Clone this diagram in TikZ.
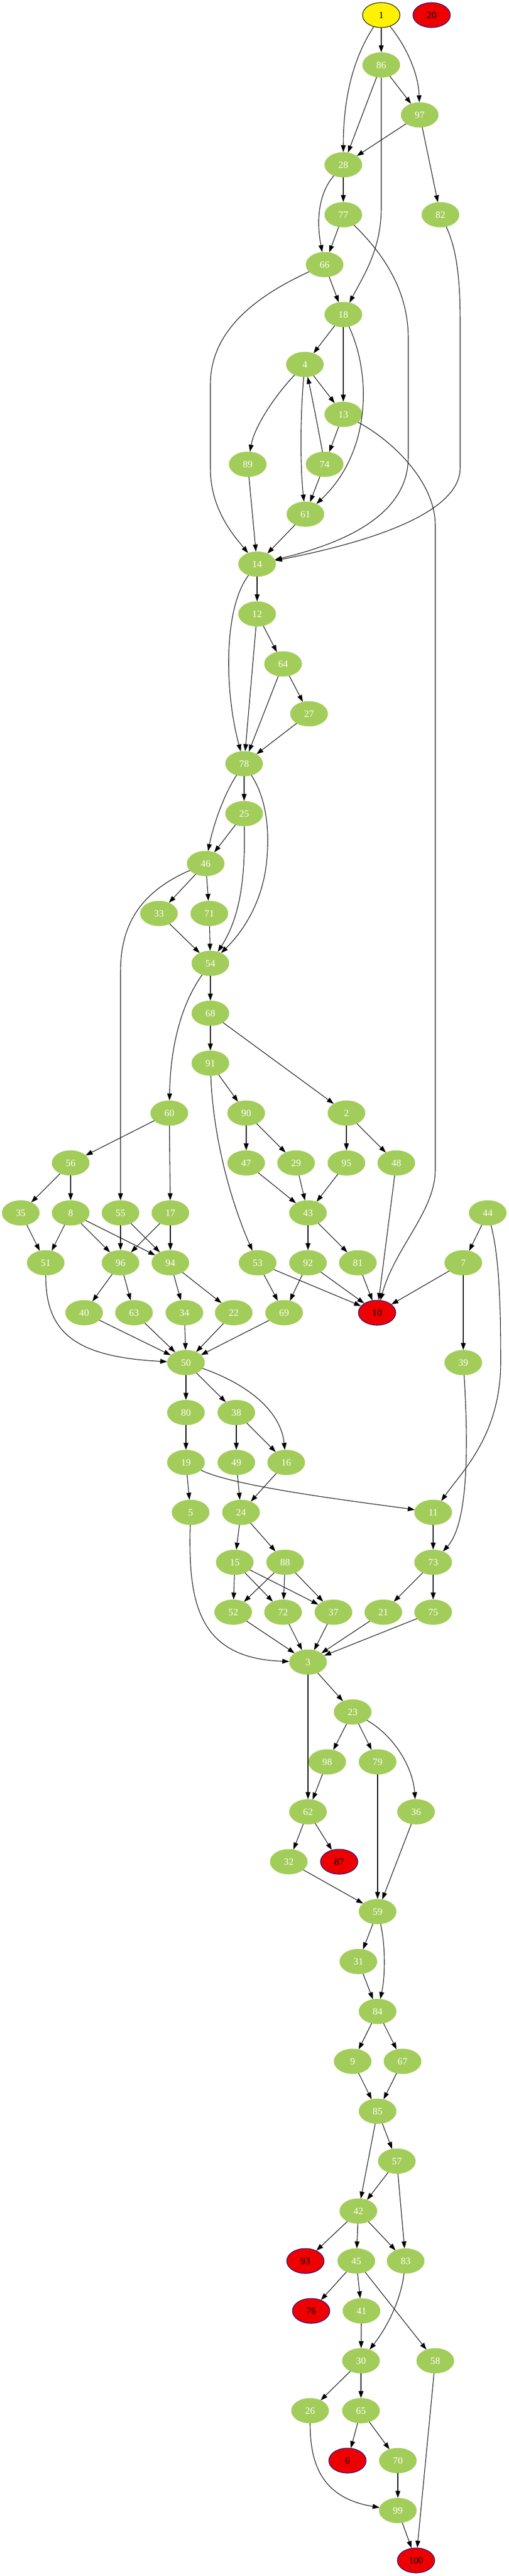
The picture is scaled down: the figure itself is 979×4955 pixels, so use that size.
\documentclass[tikz,border=0pt]{standalone}
\usepackage{fontspec}
\setmainfont{Liberation Serif}
\usetikzlibrary{shapes.geometric,arrows.meta}
\definecolor{ggreen}{HTML}{A2CD5A}
\definecolor{gred}{HTML}{EE0000}
\definecolor{gblue}{HTML}{00008B}
\tikzset{
  basenode/.style={ellipse, minimum width=54pt, minimum height=36pt, inner sep=0pt, font=\fontsize{14pt}{16pt}\selectfont},
  gnode/.style={basenode, fill=ggreen, draw=ggreen, text=white},
  rnode/.style={basenode, fill=gred, draw=gblue, line width=0.8pt, text=black},
  ynode/.style={basenode, fill=yellow, draw=black, line width=0.8pt, text=black},
  edgeline/.style={-{Triangle[length=10pt,width=7pt]}, line width=0.8pt, draw=black}
}
\begin{document}
\begin{tikzpicture}[x=0.75pt,y=-0.75pt]
\useasboundingbox (0,0) rectangle (979,4955);
% nodes
\node[ynode] (n1) at (734,29) {1};
\node[rnode] (n20) at (831,29) {20};
\node[gnode] (n86) at (734,125) {86};
\node[gnode] (n97) at (808,221) {97};
\node[gnode] (n28) at (661,317) {28};
\node[gnode] (n77) at (661,413) {77};
\node[gnode] (n82) at (848,413) {82};
\node[gnode] (n66) at (625,509) {66};
\node[gnode] (n18) at (661,605) {18};
\node[gnode] (n4) at (587,701) {4};
\node[gnode] (n13) at (661,797) {13};
\node[gnode] (n89) at (477,893) {89};
\node[gnode] (n74) at (625,893) {74};
\node[gnode] (n61) at (588,989) {61};
\node[gnode] (n14) at (495,1085) {14};
\node[gnode] (n12) at (495,1181) {12};
\node[gnode] (n64) at (545,1277) {64};
\node[gnode] (n27) at (595,1373) {27};
\node[gnode] (n78) at (470,1469) {78};
\node[gnode] (n25) at (470,1565) {25};
\node[gnode] (n46) at (396,1661) {46};
\node[gnode] (n33) at (306,1757) {33};
\node[gnode] (n71) at (403,1757) {71};
\node[gnode] (n54) at (405,1853) {54};
\node[gnode] (n68) at (405,1949) {68};
\node[gnode] (n91) at (405,2045) {91};
\node[gnode] (n60) at (326,2141) {60};
\node[gnode] (n90) at (474,2141) {90};
\node[gnode] (n2) at (667,2141) {2};
\node[gnode] (n56) at (136,2237) {56};
\node[gnode] (n47) at (474,2237) {47};
\node[gnode] (n29) at (570,2237) {29};
\node[gnode] (n95) at (667,2237) {95};
\node[gnode] (n48) at (763,2237) {48};
\node[gnode] (n35) at (40,2333) {35};
\node[gnode] (n8) at (136,2333) {8};
\node[gnode] (n55) at (232,2333) {55};
\node[gnode] (n17) at (328,2333) {17};
\node[gnode] (n43) at (593,2333) {43};
\node[gnode] (n44) at (939,2333) {44};
\node[gnode] (n51) at (88,2429) {51};
\node[gnode] (n96) at (232,2429) {96};
\node[gnode] (n94) at (328,2429) {94};
\node[gnode] (n53) at (496,2429) {53};
\node[gnode] (n92) at (593,2429) {92};
\node[gnode] (n81) at (689,2429) {81};
\node[gnode] (n7) at (892,2429) {7};
\node[gnode] (n40) at (162,2525) {40};
\node[gnode] (n63) at (258,2525) {63};
\node[gnode] (n34) at (355,2525) {34};
\node[gnode] (n22) at (450,2525) {22};
\node[gnode] (n69) at (547,2525) {69};
\node[rnode] (n10) at (726,2525) {10};
\node[gnode] (n50) at (358,2621) {50};
\node[gnode] (n39) at (892,2621) {39};
\node[gnode] (n80) at (358,2717) {80};
\node[gnode] (n38) at (455,2717) {38};
\node[gnode] (n19) at (358,2813) {19};
\node[gnode] (n49) at (455,2813) {49};
\node[gnode] (n16) at (551,2813) {16};
\node[gnode] (n5) at (367,2909) {5};
\node[gnode] (n24) at (464,2909) {24};
\node[gnode] (n11) at (834,2909) {11};
\node[gnode] (n15) at (452,3005) {15};
\node[gnode] (n88) at (549,3005) {88};
\node[gnode] (n73) at (834,3005) {73};
\node[gnode] (n52) at (449,3101) {52};
\node[gnode] (n72) at (545,3101) {72};
\node[gnode] (n37) at (642,3101) {37};
\node[gnode] (n21) at (738,3101) {21};
\node[gnode] (n75) at (834,3101) {75};
\node[gnode] (n3) at (593,3197) {3};
\node[gnode] (n23) at (679,3293) {23};
\node[gnode] (n98) at (630,3389) {98};
\node[gnode] (n79) at (727,3389) {79};
\node[gnode] (n62) at (593,3485) {62};
\node[gnode] (n36) at (801,3485) {36};
\node[gnode] (n32) at (556,3581) {32};
\node[rnode] (n87) at (653,3581) {87};
\node[gnode] (n59) at (727,3677) {59};
\node[gnode] (n31) at (690,3773) {31};
\node[gnode] (n84) at (727,3869) {84};
\node[gnode] (n9) at (679,3965) {9};
\node[gnode] (n67) at (775,3965) {67};
\node[gnode] (n85) at (727,4061) {85};
\node[gnode] (n57) at (764,4157) {57};
\node[gnode] (n42) at (690,4253) {42};
\node[rnode] (n93) at (588,4349) {93};
\node[gnode] (n45) at (686,4349) {45};
\node[gnode] (n83) at (781,4349) {83};
\node[rnode] (n76) at (599,4445) {76};
\node[gnode] (n41) at (696,4445) {41};
\node[gnode] (n30) at (695,4541) {30};
\node[gnode] (n58) at (838,4541) {58};
\node[gnode] (n26) at (597,4637) {26};
\node[gnode] (n65) at (695,4637) {65};
\node[rnode] (n6) at (669,4733) {6};
\node[gnode] (n70) at (766,4733) {70};
\node[gnode] (n99) at (766,4829) {99};
\node[rnode] (n100) at (801,4925) {100};
% straight edges
\foreach \a/\b in {1/86, 86/28, 86/97, 97/28, 97/82, 28/77, 77/66, 66/18, 18/4, 18/13, 4/13, 13/74, 74/61, 89/14, 61/14, 14/12, 12/64, 12/78, 64/78, 64/27, 27/78, 78/25, 25/46, 46/33, 46/71, 33/54, 71/54, 54/68, 68/91, 68/2, 91/90, 60/56, 60/17, 90/47, 90/29, 2/95, 2/48, 56/35, 56/8, 47/43, 29/43, 95/43, 48/10, 35/51, 8/51, 8/96, 8/94, 55/96, 55/94, 17/96, 17/94, 43/92, 43/81, 44/7, 96/40, 96/63, 94/34, 94/22, 53/69, 53/10, 92/69, 92/10, 81/10, 7/10, 7/39, 40/50, 63/50, 34/50, 22/50, 69/50, 50/80, 50/38, 80/19, 38/49, 38/16, 19/5, 49/24, 16/24, 24/15, 24/88, 11/73, 15/52, 15/72, 15/37, 88/52, 88/72, 88/37, 73/21, 73/75, 52/3, 72/3, 37/3, 21/3, 75/3, 3/23, 3/62, 23/98, 23/79, 98/62, 62/32, 62/87, 32/59, 79/59, 36/59, 59/31, 31/84, 84/9, 84/67, 9/85, 67/85, 85/42, 85/57, 57/42, 57/83, 42/93, 42/45, 42/83, 45/76, 45/41, 45/58, 41/30, 30/26, 30/65, 65/6, 65/70, 70/99, 99/100, 58/100}
  {\draw[edgeline] (n\a) -- (n\b);}
% curved edges
\draw[edgeline] (n1) .. controls (675,120) and (661,200) .. (n28);
\draw[edgeline] (n1) .. controls (790,100) and (806,150) .. (n97);
\draw[edgeline] (n86) -- (734,400) .. controls (734,480) and (700,530) .. (n18);
\draw[edgeline] (n28) .. controls (615,370) and (608,420) .. (n66);
\draw[edgeline] (n77) .. controls (740,490) and (786,560) .. (786,650) -- (786,880) .. controls (786,1000) and (640,1050) .. (n14);
\draw[edgeline] (n82) .. controls (880,480) and (886,540) .. (886,620) -- (886,900) .. controls (886,990) and (700,1045) .. (n14);
\draw[edgeline] (n66) .. controls (470,580) and (405,650) .. (405,740) -- (405,900) .. controls (405,980) and (450,1030) .. (n14);
\draw[edgeline] (n4) .. controls (530,760) and (490,820) .. (n89);
\draw[edgeline] (n4) .. controls (578,800) and (578,900) .. (n61);
\draw[edgeline] (n74) .. controls (612,820) and (600,760) .. (n4);
\draw[edgeline] (n18) .. controls (715,720) and (715,870) .. (n61);
\draw[edgeline] (n13) .. controls (760,850) and (838,930) .. (838,1010) -- (838,2250) .. controls (838,2330) and (760,2400) .. (n10);
\draw[edgeline] (n91) .. controls (410,2180) and (440,2300) .. (n53);
\draw[edgeline] (n54) .. controls (350,1930) and (328,2010) .. (n60);
\draw[edgeline] (n46) .. controls (260,1720) and (232,1790) .. (232,1870) -- (n55);
\draw[edgeline] (n78) .. controls (515,1540) and (518,1600) .. (514,1650) .. controls (508,1730) and (470,1790) .. (n54);
\draw[edgeline] (n25) .. controls (472,1680) and (465,1760) .. (n54);
\draw[edgeline] (n14) .. controls (430,1170) and (432,1330) .. (n78);
\draw[edgeline] (n78) .. controls (430,1530) and (410,1590) .. (n46);
\draw[edgeline] (n51) .. controls (88,2560) and (140,2610) .. (n50);
\draw[edgeline] (n50) .. controls (470,2660) and (540,2710) .. (n16);
\draw[edgeline] (n39) .. controls (902,2780) and (902,2930) .. (n73);
\draw[edgeline] (n44) .. controls (962,2420) and (964,2520) .. (964,2620) .. controls (964,2760) and (890,2830) .. (n11);
\draw[edgeline] (n19) .. controls (450,2860) and (700,2890) .. (n11);
\draw[edgeline] (n5) .. controls (362,3080) and (380,3190) .. (n3);
\draw[edgeline] (n23) .. controls (760,3340) and (795,3400) .. (n36);
\draw[edgeline] (n59) .. controls (742,3740) and (742,3800) .. (n84);
\draw[edgeline] (n83) .. controls (772,4420) and (750,4470) .. (n30);
\draw[edgeline] (n26) .. controls (597,4740) and (620,4805) .. (n99);
\end{tikzpicture}
\end{document}
